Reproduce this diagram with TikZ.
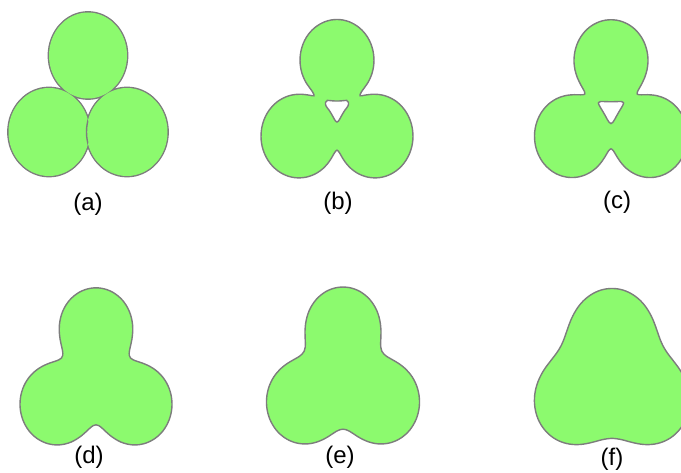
\documentclass[tikz,border=0pt]{standalone}
\usepackage{fontspec}
\setmainfont{Liberation Sans}

\definecolor{blobfill}{RGB}{140,250,110}
\definecolor{blobline}{RGB}{125,125,125}

\tikzset{
  blob/.style={fill=blobfill, draw=blobline, line width=1.4pt, even odd rule},
  blobrim/.style={draw=blobline, line width=2.8pt},
  blobbody/.style={fill=blobfill},
  blobseam/.style={draw=blobline, line width=1.4pt},
  caption/.style={font=\fontsize{24}{28}\selectfont, inner sep=0pt},
}

\newcount\bisectn

% Shape parameters: y of the top lobe centre, x/y of the lower lobe centres,
% radii of the top and lower lobes, blending width.
\newcommand\setblob[6]{%
  \def\bTy{#1}\def\bBx{#2}\def\bBy{#3}%
  \def\bRt{#4}\def\bRb{#5}\def\bK{#6}}

% Smooth-union signed distance of the three lobes at (#1,#2) -> \fd
\newcommand\blobfield[2]{%
  \pgfmathsetmacro\da{veclen(#1,#2-(\bTy))-\bRt}%
  \pgfmathsetmacro\db{veclen(#1+(\bBx),#2-(\bBy))-\bRb}%
  \pgfmathsetmacro\dc{veclen(#1-(\bBx),#2-(\bBy))-\bRb}%
  \pgfmathsetmacro\dm{min(\da,\db,\dc)}%
  \pgfmathsetmacro\fd{\dm-\bK*ln(exp((\dm-\da)/\bK)+exp((\dm-\db)/\bK)+exp((\dm-\dc)/\bK))}%
}

% Bisection along the ray of angle #1 between an inside radius #2
% and an outside radius #3 -> boundary point (\px,\py)
\newcommand\blobedge[3]{%
  \pgfmathsetmacro\cth{cos(#1)}%
  \pgfmathsetmacro\sth{sin(#1)}%
  \edef\rin{#2}\edef\rout{#3}%
  \bisectn=0
  \loop
    \pgfmathsetmacro\rmid{(\rin+\rout)/2}%
    \pgfmathsetmacro\px{\rmid*\cth}%
    \pgfmathsetmacro\py{\rmid*\sth}%
    \blobfield{\px}{\py}%
    \ifdim\fd pt<0pt \let\rin\rmid \else \let\rout\rmid \fi
    \advance\bisectn by 1
  \ifnum\bisectn<12 \repeat
}

% Outline of the shape as a list of points: #1 macro, #2 inside r, #3 outside r,
% #4 number of rays, #5 angular step
\newcommand\blobpoints[5]{%
  \gdef\ptlist{}%
  \foreach \i in {0,...,#4}{%
    \pgfmathsetmacro\ang{90+#5*\i}%
    \blobedge{\ang}{#2}{#3}%
    \xdef\ptlist{\ptlist (\px,\py)}%
  }%
  \global\let#1\ptlist
}

\newcommand\drawblob{%
  \blobpoints\outerpts{15}{110}{89}{4}%
  \edef\blobcmd{\noexpand\path[blob] plot[smooth cycle] coordinates {\outerpts};}%
  \blobcmd}

\newcommand\drawholedblob{%
  \blobpoints\outerpts{15}{110}{89}{4}%
  \blobpoints\holepts{15}{0}{35}{10}%
  \edef\blobcmd{\noexpand\path[blob] plot[smooth cycle] coordinates {\outerpts}
     plot[smooth cycle] coordinates {\holepts};}%
  \blobcmd}

\begin{document}
\begin{tikzpicture}[x=1pt, y=-1pt]
  \useasboundingbox (0,0) rectangle (681,473);
  \fill[white] (0,0) rectangle (681,473);

  % (a) three touching disks, the lower two overlapping
  \path[blobrim] (88,55.5) ellipse [x radius=39, y radius=43]
                 (49,132) ellipse [x radius=40.5, y radius=44]
                 (127,132) ellipse [x radius=40.5, y radius=44];
  \path[blobbody] (88,55.5) ellipse [x radius=39, y radius=43]
                  (49,132) ellipse [x radius=40.5, y radius=44]
                  (127,132) ellipse [x radius=40.5, y radius=44];
  \begin{scope}
    \clip (49,132) ellipse [x radius=40.5, y radius=44];
    \path[blobseam] (127,132) ellipse [x radius=40.5, y radius=44];
  \end{scope}

  % (b)
  \begin{scope}[shift={(337,113)}, yscale=1.1]
    \setblob{-48}{38}{21}{37}{38}{3}
    \drawholedblob
  \end{scope}

  % (c)
  \begin{scope}[shift={(611,111)}, yscale=1.1]
    \setblob{-46}{39}{23}{37}{37.5}{4.5}
    \drawholedblob
  \end{scope}

  % (d)
  \begin{scope}[shift={(96,380)}, yscale=1.1]
    \setblob{-47.3}{39}{22}{36.5}{37}{9}
    \drawblob
  \end{scope}

  % (e)
  \begin{scope}[shift={(343,380)}, yscale=1.1]
    \setblob{-47.5}{38.5}{20}{37}{38}{11}
    \drawblob
  \end{scope}

  % (f)
  \begin{scope}[shift={(612,380)}, yscale=1.1]
    \setblob{-44}{40}{20}{38}{36}{21}
    \drawblob
  \end{scope}

  % captions
  \node[caption] (capa) at (88,204) {(a)};
  \node[caption] (capb) at (338,203) {(b)};
  \node[caption] (capc) at (617,202) {(c)};
  \node[caption] (capd) at (89,457) {(d)};
  \node[caption] (cape) at (340,457) {(e)};
  \node[caption] (capf) at (612,459) {(f)};
\end{tikzpicture}
\end{document}
